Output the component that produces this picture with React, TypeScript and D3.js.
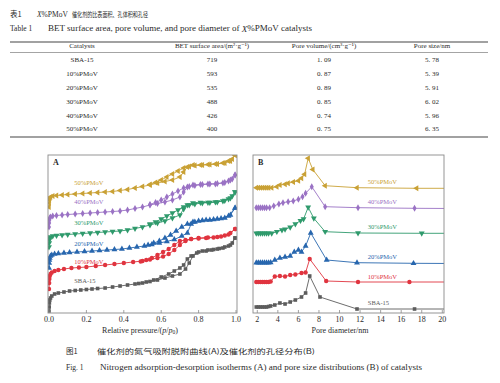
import React from 'react';
import * as d3 from 'd3';

// ---------- Table data ----------
const tableHeaders = ['Catalysts', 'BET surface area/(m²·g⁻¹)', 'Pore volume/(cm³·g⁻¹)', 'Pore size/nm'];
const catalysts = ['SBA-15', '10%PMoV', '20%PMoV', '30%PMoV', '40%PMoV', '50%PMoV'];
const betArea = ['719', '593', '535', '488', '426', '400'];
const poreVolume = ['1. 09', '0. 87', '0. 89', '0. 85', '0. 74', '0. 75'];
const poreSize = ['5. 78', '5. 39', '5. 91', '6. 02', '5. 96', '6. 35'];

// ---------- Axis ticks ----------
const ticksA = [0, 0.2, 0.4, 0.6, 0.8, 1.0];
const ticksB = [2, 4, 6, 8, 10, 12, 14, 16, 18, 20];

// ---------- Panel A: isotherms (p/p0, offset volume a.u.) ----------
const sbaAds = [[0,2],[0.001,6],[0.002,10],[0.004,13],[0.008,15],[0.015,17],[0.03,19],[0.05,20],[0.08,21],[0.11,22],[0.14,22.5],[0.17,23],[0.2,23.5],[0.23,24],[0.26,24.5],[0.3,25],[0.34,26],[0.38,27],[0.42,28],[0.46,29],[0.5,30],[0.54,31.5],[0.58,33],[0.62,35],[0.66,37],[0.7,39],[0.73,44],[0.75,50],[0.77,57],[0.8,61],[0.84,62],[0.87,63],[0.9,64],[0.93,65],[0.96,67],[0.98,70],[0.995,75]];
const sbaDes = [[0.995,75],[0.97,68],[0.94,66],[0.91,64.5],[0.88,63.5],[0.85,63],[0.82,62],[0.79,60],[0.76,57],[0.74,54],[0.72,48],[0.7,45],[0.67,42],[0.64,39],[0.6,36],[0.56,33],[0.52,31],[0.48,29.5]];
const p10Ads = [[0,24],[0.001,30],[0.002,34],[0.004,37],[0.008,39],[0.015,40.5],[0.03,42],[0.05,43],[0.08,44],[0.12,45],[0.16,45.5],[0.2,46],[0.25,47],[0.3,48],[0.35,49],[0.4,50],[0.45,51],[0.5,52],[0.54,53.5],[0.58,55],[0.61,56.5],[0.64,59],[0.67,63],[0.7,68],[0.73,72],[0.76,74],[0.8,75],[0.85,75.5],[0.9,76],[0.94,77.5],[0.97,80],[0.995,84]];
const p10Des = [[0.995,84],[0.96,78.5],[0.92,76.5],[0.88,75.5],[0.84,75],[0.8,74.5],[0.76,74],[0.73,73],[0.7,72],[0.67,68],[0.64,64],[0.61,61],[0.58,58],[0.55,55],[0.52,53],[0.49,51.5]];
const p20Ads = [[0,45],[0.001,50],[0.002,53],[0.004,55],[0.008,57],[0.015,58],[0.03,59],[0.05,59.5],[0.08,60],[0.11,60.5],[0.15,61],[0.19,61.5],[0.23,62],[0.27,62.5],[0.31,63],[0.35,63.5],[0.39,64],[0.43,65],[0.47,66],[0.51,67],[0.55,68.5],[0.59,70],[0.63,71.5],[0.67,73.5],[0.71,77],[0.74,80],[0.76,89],[0.78,91],[0.82,92.5],[0.86,93],[0.9,94],[0.94,95],[0.97,98],[0.995,105]];
const p20Des = [[0.995,105],[0.96,97],[0.92,94.5],[0.88,93.5],[0.84,93],[0.8,92],[0.77,91],[0.74,89],[0.71,86],[0.68,82],[0.65,78],[0.62,75],[0.59,72],[0.56,70],[0.53,68]];
const p30Ads = [[0,66],[0.001,70],[0.002,73],[0.004,75],[0.008,76],[0.02,77],[0.04,77.5],[0.07,78],[0.1,78.5],[0.14,79],[0.18,79.5],[0.22,80],[0.26,80.5],[0.3,81],[0.34,81.5],[0.38,82],[0.42,83],[0.46,84.5],[0.5,86],[0.54,88],[0.58,90],[0.62,92],[0.66,95],[0.7,98],[0.72,104],[0.74,108],[0.77,110],[0.81,110.5],[0.85,110.5],[0.89,111],[0.93,112],[0.96,114],[0.98,117],[0.995,121]];
const p30Des = [[0.995,121],[0.97,115],[0.94,112.5],[0.9,111],[0.86,110.5],[0.82,110],[0.78,109],[0.75,108],[0.72,106],[0.69,103],[0.66,100],[0.63,97],[0.6,94],[0.57,91],[0.54,89]];
const p40Ads = [[0,86],[0.001,90],[0.002,93],[0.004,95],[0.008,96],[0.02,97],[0.04,97.5],[0.07,98],[0.1,98.5],[0.14,99],[0.18,99.5],[0.22,100],[0.26,100.5],[0.3,101],[0.34,101.5],[0.38,102],[0.42,103],[0.46,104.5],[0.5,106],[0.54,108],[0.58,109.5],[0.62,111],[0.66,113],[0.7,116],[0.72,121],[0.74,126],[0.77,128],[0.81,128.5],[0.85,129],[0.89,129],[0.93,130],[0.96,132],[0.98,134],[0.995,138]];
const p40Des = [[0.995,138],[0.97,133],[0.94,130.5],[0.9,129.5],[0.86,129],[0.82,128.5],[0.78,127.5],[0.75,126.5],[0.72,125],[0.69,122],[0.66,119],[0.63,116],[0.6,113],[0.57,110.5],[0.54,108.5]];
const p50Ads = [[0,106],[0.001,110],[0.002,113],[0.004,115],[0.008,116],[0.02,117],[0.04,117.5],[0.07,118],[0.1,118.5],[0.14,119],[0.18,119.5],[0.22,120],[0.26,120.5],[0.3,121],[0.34,121.5],[0.38,122.5],[0.42,123.5],[0.46,125],[0.5,126.5],[0.54,128],[0.58,130],[0.62,131.5],[0.66,133],[0.7,136],[0.72,141],[0.74,146],[0.77,148],[0.81,148],[0.85,148.5],[0.89,149],[0.93,150],[0.96,152],[0.98,154],[0.995,158]];
const p50Des = [[0.995,158],[0.97,152],[0.94,150],[0.9,149],[0.86,148.5],[0.82,148],[0.78,147.5],[0.75,146.5],[0.72,145],[0.69,142],[0.66,139],[0.63,136],[0.6,133],[0.57,130.5],[0.54,128.5]];

// ---------- Panel B: pore size distributions (nm, offset dV a.u.) ----------
const sbaPsd = [[1.9,6],[2.1,6],[2.3,6],[2.5,6],[2.7,6],[2.9,6],[3.1,6.5],[3.3,7],[3.7,8],[4.2,10],[4.7,9],[5.2,11],[5.7,13],[6.3,16],[6.7,20],[7.1,37],[8.1,16],[11.7,4],[17.3,4],[21,4]];
const p10Psd = [[1.9,31],[2.1,31],[2.3,31],[2.5,31],[2.7,31],[2.9,31],[3.1,31],[3.3,31.5],[3.7,36.5],[4.2,37],[4.7,36.5],[5.2,38],[5.7,38.5],[6.3,40],[6.7,40.5],[7.1,54],[8.7,32],[11.8,31],[16.8,31],[21,31]];
const p20Psd = [[1.9,50.3],[2.1,50.3],[2.3,50.3],[2.5,50.3],[2.7,50.3],[2.9,50.3],[3.1,50.3],[3.3,50.5],[3.7,53],[4.2,55],[4.7,56],[5.2,57],[5.6,61],[6.0,63],[6.3,61],[6.7,67],[7.2,80],[8.75,53],[11.7,50.3],[17.2,49.7],[21,49.5]];
const p30Psd = [[1.9,79.7],[2.1,79.7],[2.3,79.7],[2.5,79.7],[2.7,79.7],[2.9,79.7],[3.1,79.7],[3.4,79.7],[3.9,81.3],[4.4,83],[4.7,83.7],[5.2,85.7],[5.7,89],[6.2,92.3],[6.5,94],[6.95,105.7],[7.5,94.7],[8.6,81.3],[11.8,80],[18.0,79.7],[21,79.7]];
const p40Psd = [[1.9,105.3],[2.1,105.3],[2.3,105.3],[2.5,105.3],[2.7,105.3],[2.9,105.3],[3.2,105.3],[3.6,107],[4.1,109],[4.5,110.3],[5.0,111.3],[5.5,112],[6.0,113.7],[6.4,116.3],[6.7,119.7],[7.3,126.3],[8.6,106.3],[11.8,105.3],[17.3,104.7],[21,104.5]];
const p50Psd = [[1.9,125.3],[2.1,125.3],[2.3,125.3],[2.5,125.3],[2.7,125.3],[2.9,125.3],[3.1,125.3],[3.4,125.3],[3.9,126.3],[4.2,128],[4.7,128.7],[5.0,129.7],[5.5,131],[6.0,132.3],[6.3,134.7],[6.6,138.7],[6.95,154.7],[7.4,143.5],[8.6,127.3],[11.7,125.3],[17.5,124.7],[21,124.7]];

const series = [
  { name: 'SBA-15', color: '#5c5c5c', shape: 'square', ads: sbaAds, des: sbaDes, psd: sbaPsd, labA: [0.135, 31], labB: [12.75, 9] },
  { name: '10%PMoV', color: '#e0343f', shape: 'circle', ads: p10Ads, des: p10Des, psd: p10Psd, labA: [0.135, 50], labB: [12.75, 35] },
  { name: '20%PMoV', color: '#2766ae', shape: 'up', ads: p20Ads, des: p20Des, psd: p20Psd, labA: [0.135, 68], labB: [12.75, 55] },
  { name: '30%PMoV', color: '#2f9a6c', shape: 'down', ads: p30Ads, des: p30Des, psd: p30Psd, labA: [0.135, 89], labB: [12.75, 85] },
  { name: '40%PMoV', color: '#9a72c4', shape: 'diamond', ads: p40Ads, des: p40Des, psd: p40Psd, labA: [0.135, 110], labB: [12.75, 110] },
  { name: '50%PMoV', color: '#c9a135', shape: 'left', ads: p50Ads, des: p50Des, psd: p50Psd, labA: [0.135, 129], labB: [12.75, 130] },
];

const SERIF = '"Liberation Serif", "Times New Roman", "DejaVu Serif", serif';
const CJK = '"Noto Sans CJK SC", sans-serif';

const symbolPath = (shape: string) => {
  if (shape === 'square') return d3.symbol().type(d3.symbolSquare).size(13)();
  if (shape === 'circle') return d3.symbol().type(d3.symbolCircle).size(15)();
  if (shape === 'diamond') return d3.symbol().type(d3.symbolDiamond).size(14)();
  return d3.symbol().type(d3.symbolTriangle).size(15)();
};
const rot = (shape: string) => (shape === 'down' ? 180 : shape === 'left' ? -90 : 0);

function Markers({ pts, x, y, shape, color }: any) {
  const p = symbolPath(shape);
  const r = rot(shape);
  return (
    <g fill={color}>
      {pts.map((d: number[], i: number) => (
        <path key={i} d={p as string} transform={`translate(${x(d[0])},${y(d[1])}) rotate(${r})`} />
      ))}
    </g>
  );
}

export default function App() {
  // Panel A
  const ax0 = 48, ax1 = 237, top = 155, bot = 313;
  const xA = d3.scaleLinear().domain([0, 1]).range([49, 236]);
  const yA = d3.scaleLinear().domain([0, 158]).range([bot, top]);
  // Panel B
  const bx0 = 253, bx1 = 444;
  const xB = d3.scaleLinear().domain([2, 20]).range([257.3, 442.3]);
  const yB = d3.scaleLinear().domain([0, 158]).range([bot, top]);

  const lineA = d3.line<number[]>().x(d => xA(d[0])).y(d => yA(d[1]));
  const lineB = d3.line<number[]>().x(d => xB(d[0])).y(d => yB(d[1]));

  const colX = [82, 212, 324, 432];
  const rowY = [60, 74, 88, 102, 116, 129.5];
  const txt = '#2a2a2a';

  return (
    <div style={{ position: 'absolute', left: 0, top: 0 }}>
      <svg width={500} height={383} style={{ display: 'block', background: '#fff' }}>
        <defs>
          <clipPath id="clipA"><rect x={ax0} y={top} width={ax1 - ax0} height={bot - top} /></clipPath>
          <clipPath id="clipB"><rect x={bx0} y={top} width={bx1 - bx0} height={bot - top} /></clipPath>
        </defs>

        {/* Table title */}
        <text x={10} y={15} dominantBaseline="middle" fontSize={7.5} fill={txt} fontFamily={CJK}>表1</text>
        <text x={37} y={15} dominantBaseline="middle" fontSize={7.5} fill={txt} fontFamily={SERIF}>
          <tspan fontStyle="italic">X</tspan>%PMoV
        </text>
        <text x={72} y={15} dominantBaseline="middle" fontSize={7.2} fill={txt} fontFamily={CJK} textLength={76} lengthAdjust="spacingAndGlyphs">催化剂的比表面积、孔体积和孔径</text>
        <text x={10} y={29.5} dominantBaseline="middle" fontSize={7.5} fill={txt} fontFamily={SERIF}>Table 1</text>
        <text x={48} y={29.5} dominantBaseline="middle" fontSize={7.5} fill={txt} fontFamily={SERIF} textLength={264} lengthAdjust="spacingAndGlyphs">
          BET surface area, pore volume, and pore diameter of <tspan fontStyle="italic">X</tspan>%PMoV catalysts
        </text>

        {/* Table rules */}
        <line x1={10} x2={488} y1={42} y2={42} stroke="#444" strokeWidth={1.1} />
        <line x1={10} x2={488} y1={52.5} y2={52.5} stroke="#666" strokeWidth={0.6} />
        <line x1={10} x2={488} y1={137} y2={137} stroke="#444" strokeWidth={1.1} />

        {tableHeaders.map((h, i) => (
          <text key={h} x={colX[i]} y={46.5} textAnchor="middle" dominantBaseline="middle" fontSize={7} fill={txt} fontFamily={SERIF}>{h}</text>
        ))}
        {catalysts.map((c, i) => (
          <g key={c} fontSize={7} fill={txt} fontFamily={SERIF} textAnchor="middle" dominantBaseline="middle">
            <text x={colX[0]} y={rowY[i]}>{c}</text>
            <text x={colX[1]} y={rowY[i]}>{betArea[i]}</text>
            <text x={colX[2]} y={rowY[i]}>{poreVolume[i]}</text>
            <text x={colX[3]} y={rowY[i]}>{poreSize[i]}</text>
          </g>
        ))}

        {/* Panel A */}
        <g clipPath="url(#clipA)">
          {series.map(s => (
            <g key={s.name}>
              <path d={lineA(s.ads as number[][]) as string} fill="none" stroke={s.color} strokeWidth={0.9} />
              <path d={lineA(s.des as number[][]) as string} fill="none" stroke={s.color} strokeWidth={0.9} />
              <Markers pts={s.ads} x={xA} y={yA} shape={s.shape} color={s.color} />
              <Markers pts={s.des} x={xA} y={yA} shape={s.shape} color={s.color} />
            </g>
          ))}
        </g>
        {series.map(s => (
          <text key={s.name} x={xA(s.labA[0])} y={yA(s.labA[1])} dominantBaseline="middle" fontSize={6.5} fill={s.color} fontFamily={SERIF}>{s.name}</text>
        ))}
        <rect x={ax0} y={top} width={ax1 - ax0} height={bot - top} fill="none" stroke="#8a8a8a" strokeWidth={0.9} />
        {ticksA.map(t => (
          <g key={t}>
            <line x1={xA(t)} x2={xA(t)} y1={bot} y2={bot - 3} stroke="#8a8a8a" strokeWidth={0.8} />
            <text x={xA(t)} y={320.5} textAnchor="middle" dominantBaseline="middle" fontSize={8} fill={txt} fontFamily={SERIF}>{d3.format('.1f')(t)}</text>
          </g>
        ))}
        <text x={140} y={331} textAnchor="middle" dominantBaseline="middle" fontSize={8} fill={txt} fontFamily={SERIF}>
          Relative pressure/(<tspan fontStyle="italic">p</tspan>/<tspan fontStyle="italic">p</tspan><tspan fontSize={5.5} dy={1.8}>0</tspan><tspan dy={-1.8}>)</tspan>
        </text>
        <text x={53} y={163} dominantBaseline="middle" fontSize={8} fill={txt} fontFamily={SERIF} fontWeight="bold">A</text>

        {/* Panel B */}
        <g clipPath="url(#clipB)">
          {series.map(s => (
            <g key={s.name}>
              <path d={lineB(s.psd as number[][]) as string} fill="none" stroke={s.color} strokeWidth={0.9} />
              <Markers pts={s.psd} x={xB} y={yB} shape={s.shape} color={s.color} />
            </g>
          ))}
        </g>
        {series.map(s => (
          <text key={s.name} x={xB(s.labB[0])} y={yB(s.labB[1])} dominantBaseline="middle" fontSize={6.5} fill={s.color} fontFamily={SERIF}>{s.name}</text>
        ))}
        <rect x={bx0} y={top} width={bx1 - bx0} height={bot - top} fill="none" stroke="#8a8a8a" strokeWidth={0.9} />
        {ticksB.map(t => (
          <g key={t}>
            <line x1={xB(t)} x2={xB(t)} y1={bot} y2={bot - 3} stroke="#8a8a8a" strokeWidth={0.8} />
            <text x={xB(t)} y={320.5} textAnchor="middle" dominantBaseline="middle" fontSize={8} fill={txt} fontFamily={SERIF}>{t}</text>
          </g>
        ))}
        <text x={340} y={331} textAnchor="middle" dominantBaseline="middle" fontSize={8} fill={txt} fontFamily={SERIF}>Pore diameter/nm</text>
        <text x={258} y={163} dominantBaseline="middle" fontSize={8} fill={txt} fontFamily={SERIF} fontWeight="bold">B</text>

        {/* Figure caption */}
        <text x={66} y={352} dominantBaseline="middle" fontSize={7.5} fill={txt} fontFamily={CJK}>图1</text>
        <text x={97} y={352} dominantBaseline="middle" fontSize={7} fill={txt} fontFamily={CJK} textLength={218} lengthAdjust="spacingAndGlyphs">催化剂的氮气吸附脱附曲线(A)及催化剂的孔径分布(B)</text>
        <text x={66} y={368} dominantBaseline="middle" fontSize={7.5} fill={txt} fontFamily={SERIF}>Fig. 1</text>
        <text x={100} y={368} dominantBaseline="middle" fontSize={7.5} fill={txt} fontFamily={SERIF} textLength={322} lengthAdjust="spacingAndGlyphs">Nitrogen adsorption-desorption isotherms (A) and pore size distributions (B) of catalysts</text>
      </svg>
    </div>
  );
}
